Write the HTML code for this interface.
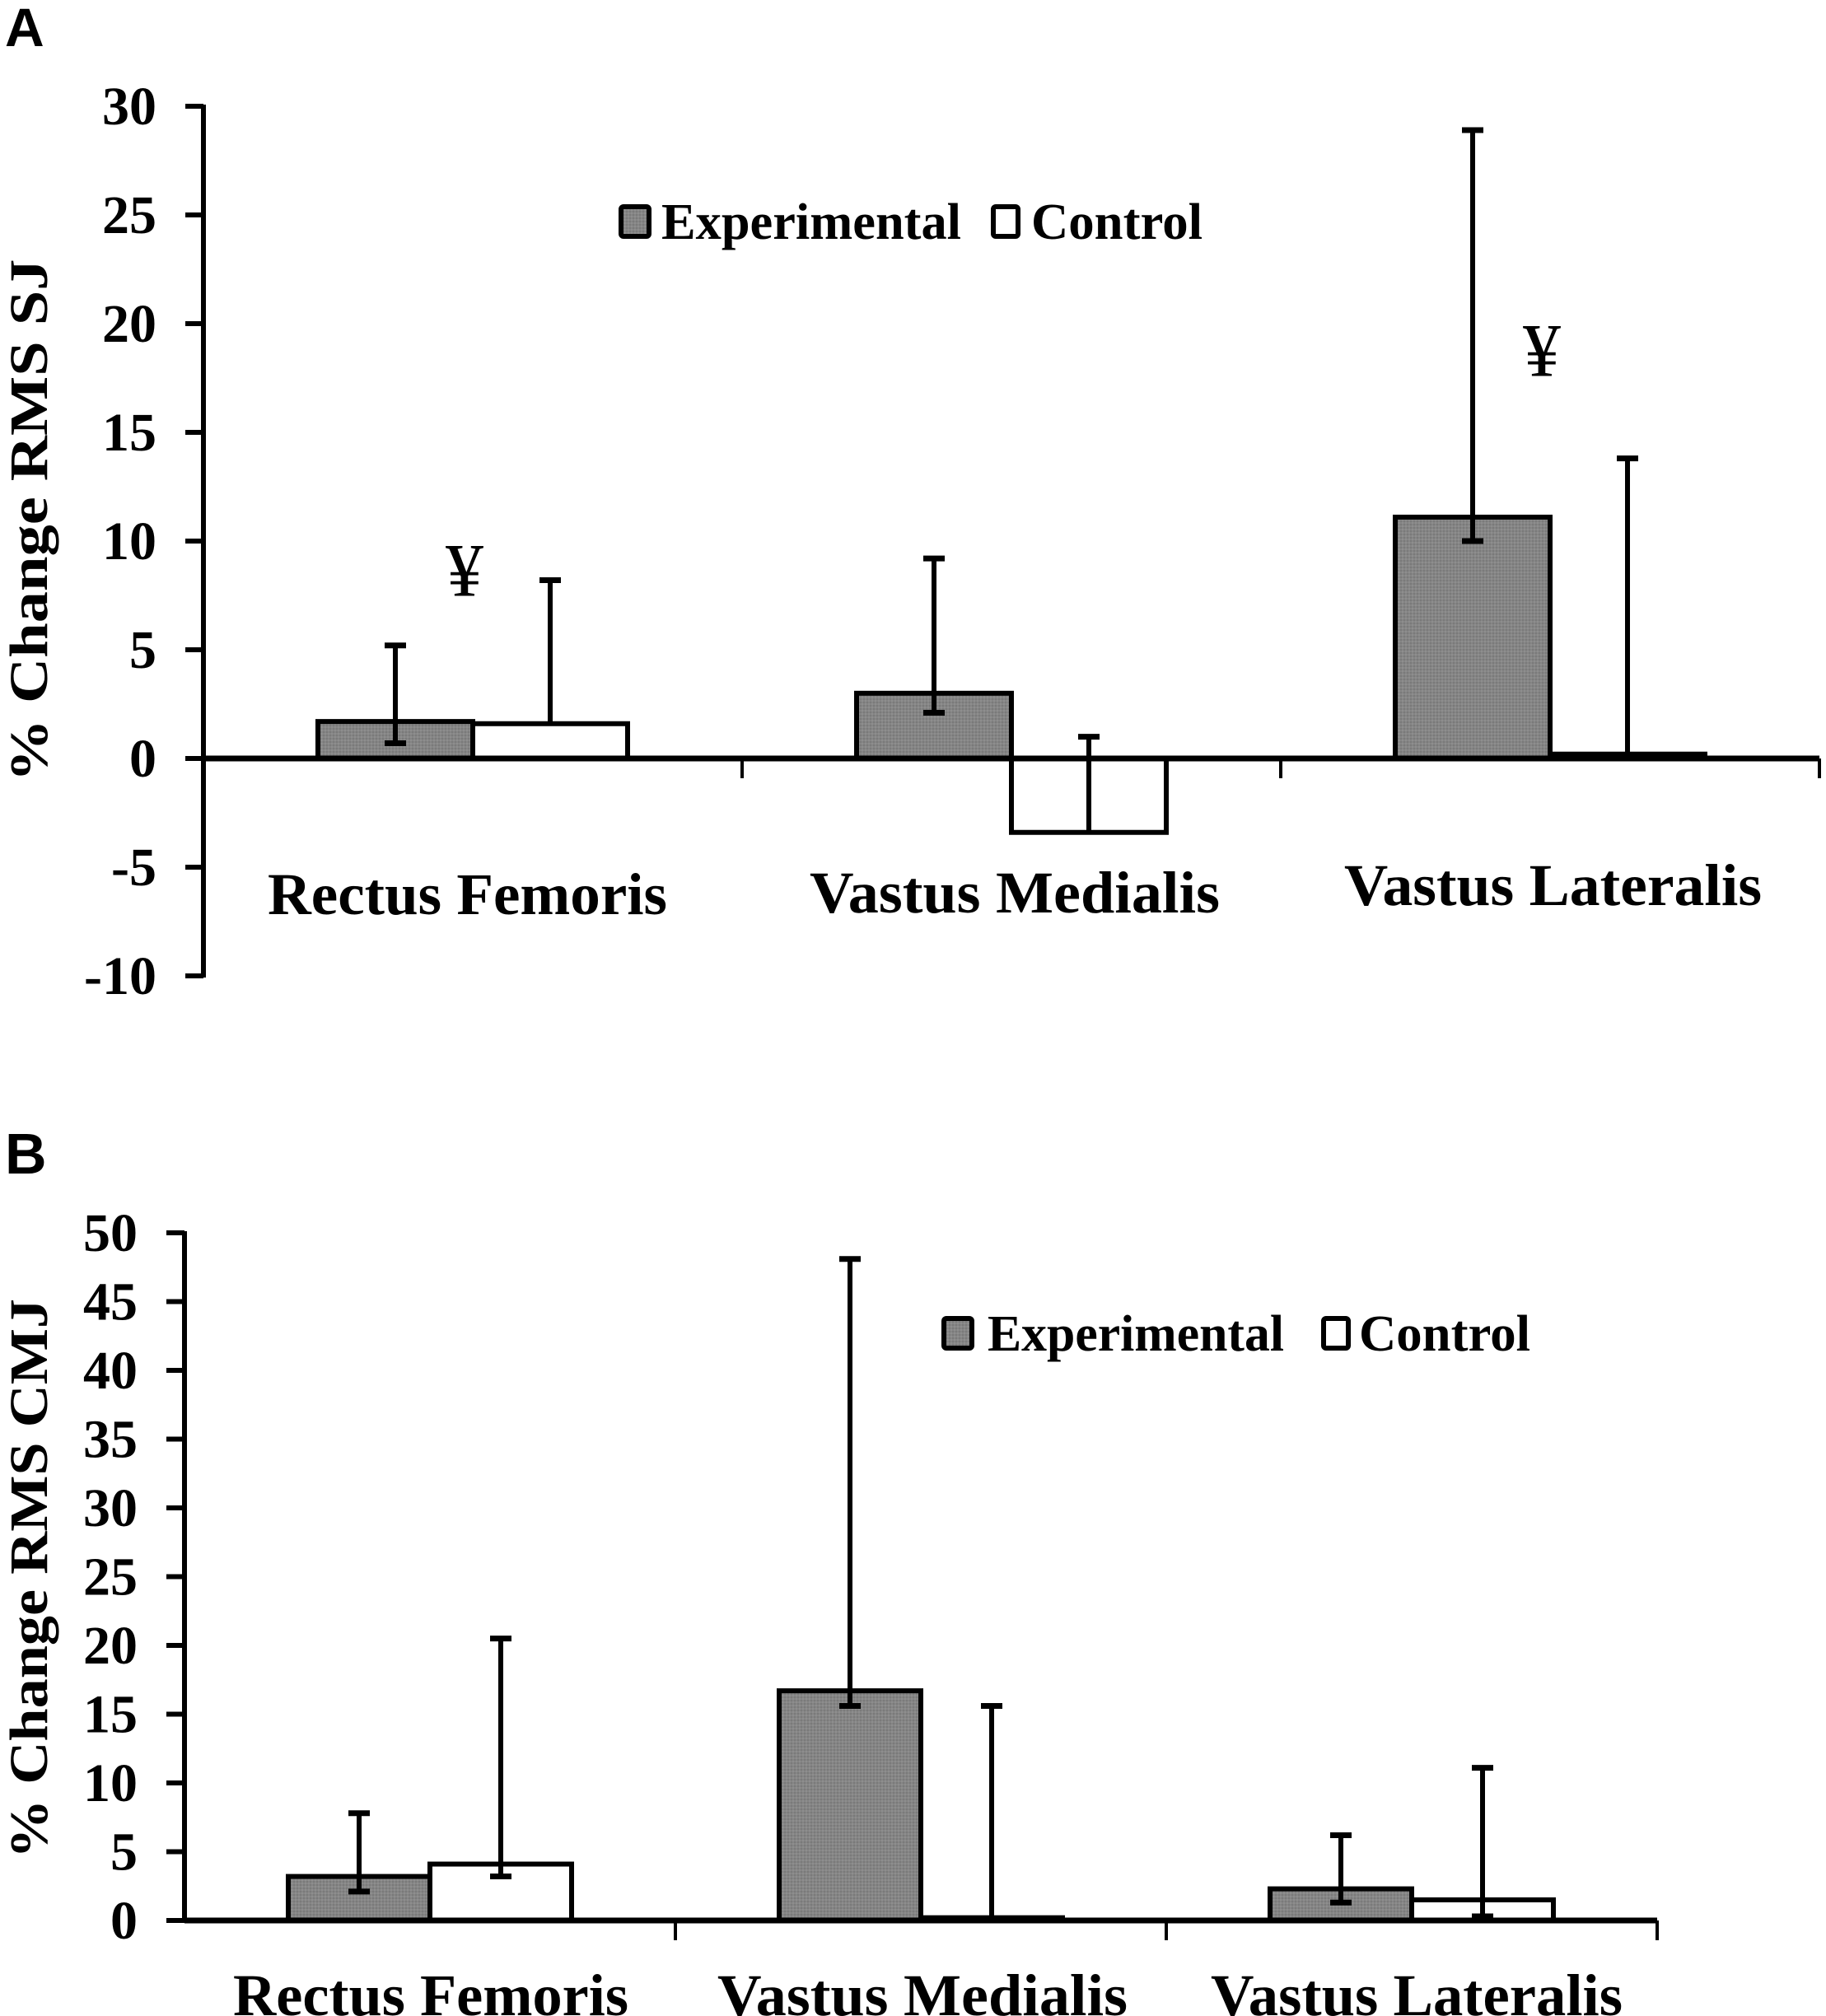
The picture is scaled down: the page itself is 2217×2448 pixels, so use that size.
<!DOCTYPE html>
<html><head><meta charset="utf-8"><style>
html,body{margin:0;padding:0;background:#fff}
svg{display:block}
text{font-family:"Liberation Serif",serif;font-weight:bold;fill:#000}
</style></head><body>
<svg id="fig" width="2217" height="2448" viewBox="0 0 2217 2448" xmlns="http://www.w3.org/2000/svg">
<rect width="2217" height="2448" fill="#fff"/>
<defs>
<pattern id="tex" width="4" height="4" patternUnits="userSpaceOnUse">
<rect width="4" height="4" fill="#858585"/><rect width="2" height="2" fill="#7a7a7a"/><rect x="2" y="2" width="2" height="2" fill="#8e8e8e"/>
</pattern>
</defs>
<text x="6" y="56" font-size="66" style="font-family:'Liberation Sans',sans-serif">A</text>
<text x="6" y="1425" font-size="70" style="font-family:'Liberation Sans',sans-serif">B</text>
<g id="chartA"></g>
<g id="chartB"></g>
</svg>
<script>
const categories = ["Rectus Femoris", "Vastus Medialis", "Vastus Lateralis"];
const aTicks = [30, 25, 20, 15, 10, 5, 0, -5, -10];
const aExp = [1.7, 3.0, 11.1];
const aCtrl = [1.6, -3.4, 0.2];
const aExpHi = [5.2, 9.2, 28.9];
const aExpLo = [0.7, 2.1, 10.0];
const aCtrlHi = [8.2, 1.0, 13.8];
const aCtrlLo = [null, null, null];
const aMarks = [8.7, null, 18.8];
const bTicks = [50, 45, 40, 35, 30, 25, 20, 15, 10, 5, 0];
const bExp = [3.2, 16.7, 2.3];
const bCtrl = [4.1, 0.2, 1.5];
const bExpHi = [7.8, 48.1, 6.2];
const bExpLo = [2.1, 15.6, 1.3];
const bCtrlHi = [20.5, 15.6, 11.1];
const bCtrlLo = [3.2, null, 0.3];

const NS = "http://www.w3.org/2000/svg";
function mk(parent, tag, attrs, txt){
  const e = document.createElementNS(NS, tag);
  for (const k in attrs) e.setAttribute(k, attrs[k]);
  if (txt !== undefined) e.textContent = txt;
  parent.appendChild(e);
  return e;
}
function draw(cfg){
  const g = document.getElementById(cfg.id);
  const yMax = cfg.ticks[0], yMin = cfg.ticks[cfg.ticks.length-1];
  const y = v => cfg.y0 + (v - 0) * (cfg.yTop - cfg.y0) / yMax;
  const catW = (cfg.xEnd - cfg.x0) / categories.length;
  const bw = cfg.bw;
  const ya = mk(g, "line", {x1:cfg.x0, x2:cfg.x0, y1:y(yMax)-2, y2:y(yMin)+2, stroke:"#000","stroke-width":6});
  
  
  cfg.ticks.forEach(t => {
    const tl = mk(g, "line", {x1:cfg.x0-22, x2:cfg.x0, y1:y(t), y2:y(t), stroke:"#000","stroke-width":6});
    
    
    const tx = mk(g, "text", {x:cfg.labX, y:y(t)+22, "font-size":66, "text-anchor":"end"}, String(t));
    
    
  });
  const tt = mk(g, "text", {x:0, y:0, "font-size":66, "text-anchor":"middle", transform:`translate(${cfg.titleX},${cfg.titleY}) rotate(-90)`, textLength:cfg.titleLen, lengthAdjust:"spacingAndGlyphs"}, cfg.title);
  
  
  categories.forEach((c, i) => {
    const cx = cfg.x0 + catW * (i + 0.5);
    const series = [
      {v:cfg.exp[i], hi:cfg.expHi[i], lo:cfg.expLo[i], x:cx-bw, fill:"url(#tex)", n:"experimental"},
      {v:cfg.ctrl[i], hi:cfg.ctrlHi[i], lo:cfg.ctrlLo[i], x:cx, fill:"#fff", n:"control"}
    ];
    series.forEach(s => {
      const top = Math.min(y(s.v), y(0)), h = Math.abs(y(s.v) - y(0));
      const r = mk(g, "rect", {x:s.x, y:top, width:bw, height:Math.max(h,1), fill:s.fill, stroke:"#000","stroke-width":6});
      
      
      const ex = s.x + bw/2;
      const lowEnd = (s.lo !== null) ? s.lo : s.v;
      const el = mk(g, "line", {x1:ex, x2:ex, y1:y(s.hi), y2:y(lowEnd), stroke:"#000","stroke-width":6});
      
      
      const c1 = mk(g, "line", {x1:ex-13, x2:ex+13, y1:y(s.hi), y2:y(s.hi), stroke:"#000","stroke-width":7});
      
      
      if (s.lo !== null) {
        const c2 = mk(g, "line", {x1:ex-13, x2:ex+13, y1:y(s.lo), y2:y(s.lo), stroke:"#000","stroke-width":7});
        
        
      }
    });
    if (cfg.marks && cfg.marks[i] !== null) {
      const m = mk(g, "text", {x:cx - 10, y:y(cfg.marks[i]) + 32, "font-size":92, "text-anchor":"middle", style:"font-weight:normal"}, "¥");
      
      
    }
    const lab = mk(g, "text", {x:cfg.catLabX[i], y:cfg.catLabY[i], "font-size":72, textLength:cfg.catLabW[i], lengthAdjust:"spacingAndGlyphs"}, c);
    
    
    const ct = mk(g, "line", {x1:cfg.x0+catW*(i+1), x2:cfg.x0+catW*(i+1), y1:y(0), y2:y(0)+24, stroke:"#000","stroke-width":4});
    
    
  });
  const xa = mk(g, "line", {x1:cfg.x0, x2:cfg.xEnd, y1:y(0), y2:y(0), stroke:"#000","stroke-width":7});
  
  
  const L = cfg.leg;
  const s1 = mk(g, "rect", {x:L.x1, y:L.y, width:34, height:36, fill:"url(#tex)", stroke:"#000","stroke-width":6, rx:3});
  
  
  const t1 = mk(g, "text", {x:L.t1, y:L.y+39, "font-size":62, textLength:L.w1, lengthAdjust:"spacingAndGlyphs"}, "Experimental");
  
  
  const s2 = mk(g, "rect", {x:L.x2, y:L.y, width:30, height:36, fill:"#fff", stroke:"#000","stroke-width":6, rx:3});
  
  
  const t2 = mk(g, "text", {x:L.t2, y:L.y+39, "font-size":62, textLength:L.w2, lengthAdjust:"spacingAndGlyphs"}, "Control");
  
  
}
draw({id:"chartA", ticks:aTicks, exp:aExp, ctrl:aCtrl, expHi:aExpHi, expLo:aExpLo, ctrlHi:aCtrlHi, ctrlLo:aCtrlLo, marks:aMarks,
  x0:247, xEnd:2209, y0:921, yTop:129, bw:188, labX:190,
  title:"% Change RMS SJ", titleX:57, titleY:632, titleLen:635,
  catLabX:[325, 983, 1632], catLabY:[1110, 1108, 1099], catLabW:[485, 498, 507],
  leg:{x1:754, t1:803, w1:364, x2:1206, t2:1252, w2:208, y:251}});
draw({id:"chartB", ticks:bTicks, exp:bExp, ctrl:bCtrl, expHi:bExpHi, expLo:bExpLo, ctrlHi:bCtrlHi, ctrlLo:bCtrlLo, marks:null,
  x0:224, xEnd:2012, y0:2332, yTop:1497, bw:172, labX:167,
  title:"% Change RMS CMJ", titleX:57, titleY:1917, titleLen:680,
  catLabX:[283, 871, 1470], catLabY:[2447, 2447, 2447], catLabW:[480, 498, 500],
  leg:{x1:1146, t1:1199, w1:360, x2:1607, t2:1650, w2:208, y:1601}});
</script>
</body></html>
